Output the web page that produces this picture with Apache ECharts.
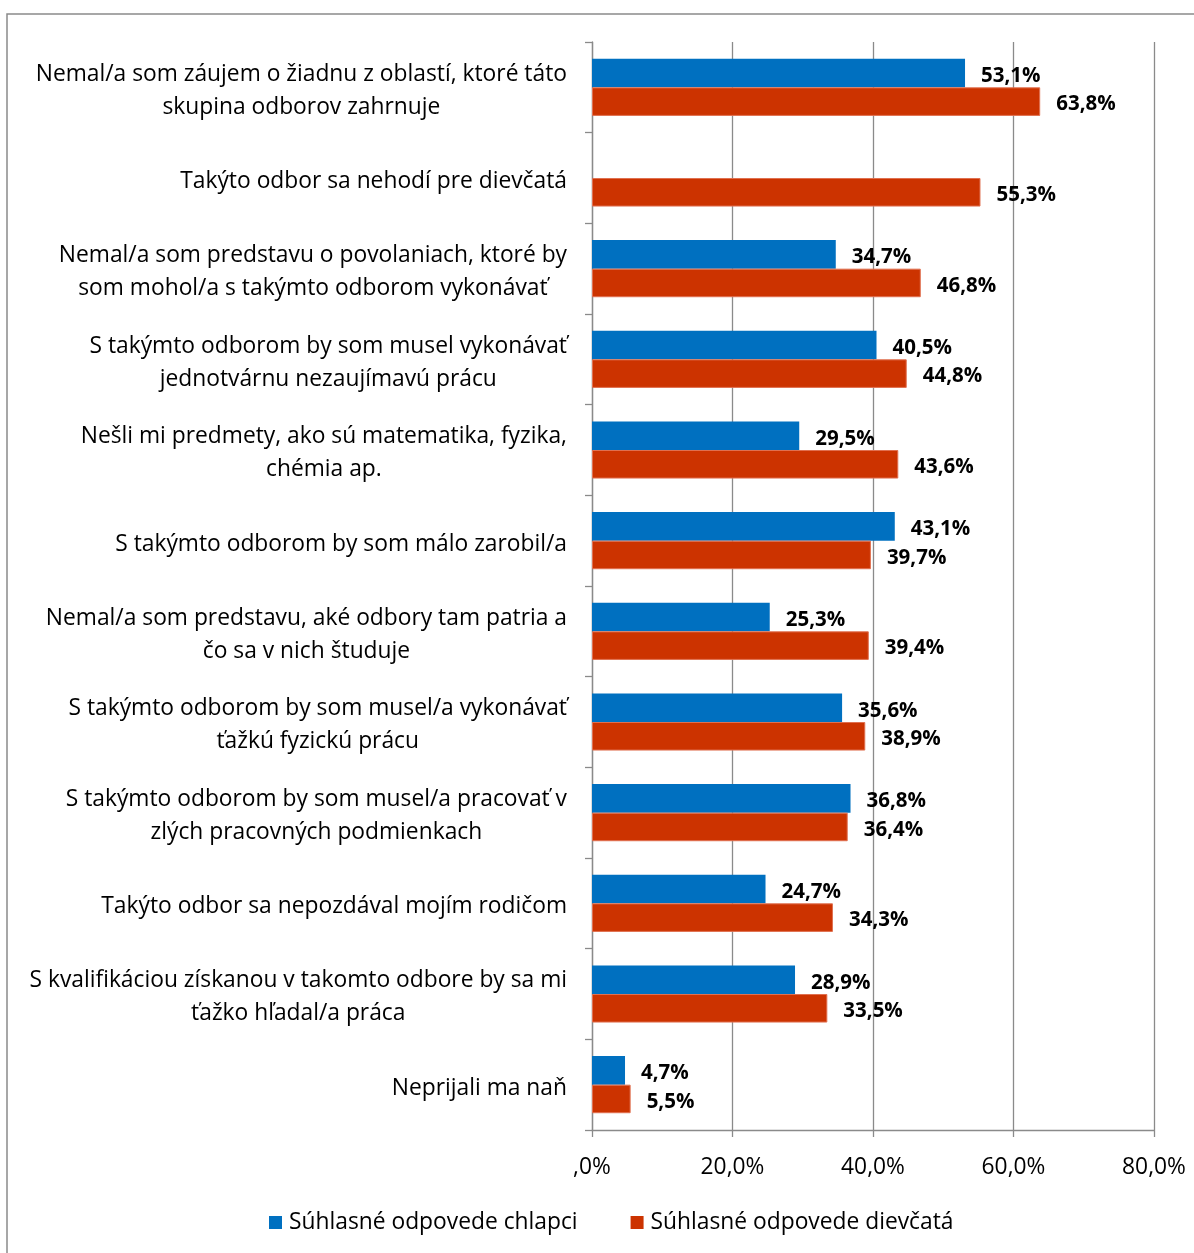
<!DOCTYPE html>
<html>
<head>
<meta charset="utf-8">
<script src="https://cdn.jsdelivr.net/npm/echarts@6/dist/echarts.min.js"></script>
<style>
html,body{margin:0;padding:0;background:#fff;}
#chart{width:1194px;height:1253px;}
</style>
</head>
<body>
<div id="chart"></div>
<script>
const categories = [
  "Nemal/a som záujem o žiadnu z oblastí, ktoré táto\nskupina odborov zahrnuje",
  "Takýto odbor sa nehodí pre dievčatá",
  "Nemal/a som predstavu o povolaniach, ktoré by\nsom mohol/a s takýmto odborom vykonávať",
  "S takýmto odborom by som musel vykonávať\njednotvárnu nezaujímavú prácu",
  "Nešli mi predmety, ako sú matematika, fyzika,\nchémia ap.",
  "S takýmto odborom by som málo zarobil/a",
  "Nemal/a som predstavu, aké odbory tam patria a\nčo sa v nich študuje",
  "S takýmto odborom by som musel/a vykonávať\nťažkú fyzickú prácu",
  "S takýmto odborom by som musel/a pracovať v\nzlých pracovných podmienkach",
  "Takýto odbor sa nepozdával mojím rodičom",
  "S kvalifikáciou získanou v takomto odbore by sa mi\nťažko hľadal/a práca",
  "Neprijali ma naň"
];
const boys = [53.1, null, 34.7, 40.5, 29.5, 43.1, 25.3, 35.6, 36.8, 24.7, 28.9, 4.7];
const girls = [63.8, 55.3, 46.8, 44.8, 43.6, 39.7, 39.4, 38.9, 36.4, 34.3, 33.5, 5.5];
const seriesNames = ["Súhlasné odpovede chlapci", "Súhlasné odpovede dievčatá"];
const xTicks = [0, 20, 40, 60, 80];

const FONT = "Open Sans";
const fmtPct = v => (v === 0 ? ",0" : v.toFixed(1).replace(".", ",")) + "%";

const chart = echarts.init(document.getElementById("chart"), null, {renderer: "canvas"});
const labelStyle = {
  show: true, position: "right", distance: 16, offset: [0, 3],
  fontFamily: FONT, fontWeight: "bold", fontSize: 20.5, color: "#000",
  formatter: p => p.value == null ? "" : p.value.toFixed(1).replace(".", ",") + "%"
};
chart.setOption({
  animation: false,
  backgroundColor: "#fff",
  textStyle: {fontFamily: FONT},
  graphic: [{
    type: "rect", shape: {x: 7, y: 14, width: 1200, height: 1260},
    style: {fill: "none", stroke: "#8a8a8a", lineWidth: 1.5}, silent: true
  }],
  grid: {left: 592, right: 40, top: 42, bottom: 123, containLabel: false},
  legend: {
    left: 264, top: 1206, icon: "rect", itemWidth: 13, itemHeight: 13, itemGap: 53,
    itemStyle: {borderWidth: 0},
    textStyle: {fontFamily: FONT, fontSize: 22.8, color: "#000", padding: [0, 0, 0, 2]},
    data: seriesNames
  },
  xAxis: {
    type: "value", min: xTicks[0], max: xTicks[xTicks.length - 1], interval: 20,
    axisLine: {show: true, lineStyle: {color: "#8a8a8a", width: 1.3}},
    axisTick: {show: true, length: 7, lineStyle: {color: "#8a8a8a", width: 1.3}},
    splitLine: {show: true, lineStyle: {color: "#8a8a8a", width: 1.3}},
    axisLabel: {fontFamily: FONT, fontSize: 22.8, color: "#000", margin: 26, formatter: fmtPct}
  },
  yAxis: {
    type: "category", inverse: true, data: categories,
    axisLine: {show: true, lineStyle: {color: "#8a8a8a", width: 1.3}},
    axisTick: {show: true, length: 7, lineStyle: {color: "#8a8a8a", width: 1.3}},
    axisLabel: {
      margin: 25, align: "right", padding: [7, 0, 0, 0],
      formatter: v => v.split("\n").map(l => "{c|" + l + "}").join("\n"),
      rich: {c: {align: "center", fontFamily: FONT, fontSize: 22.8, color: "#000", lineHeight: 33}}
    }
  },
  series: [
    {name: seriesNames[0], type: "bar", data: boys, barGap: "0%", barCategoryGap: "37%",
     itemStyle: {color: "#0070C0"}, label: labelStyle},
    {name: seriesNames[1], type: "bar", data: girls, barGap: "0%", barCategoryGap: "37%",
     itemStyle: {color: "#CC3300", borderColor: "#E07050", borderWidth: 1}, label: labelStyle}
  ]
});
</script>
</body>
</html>
